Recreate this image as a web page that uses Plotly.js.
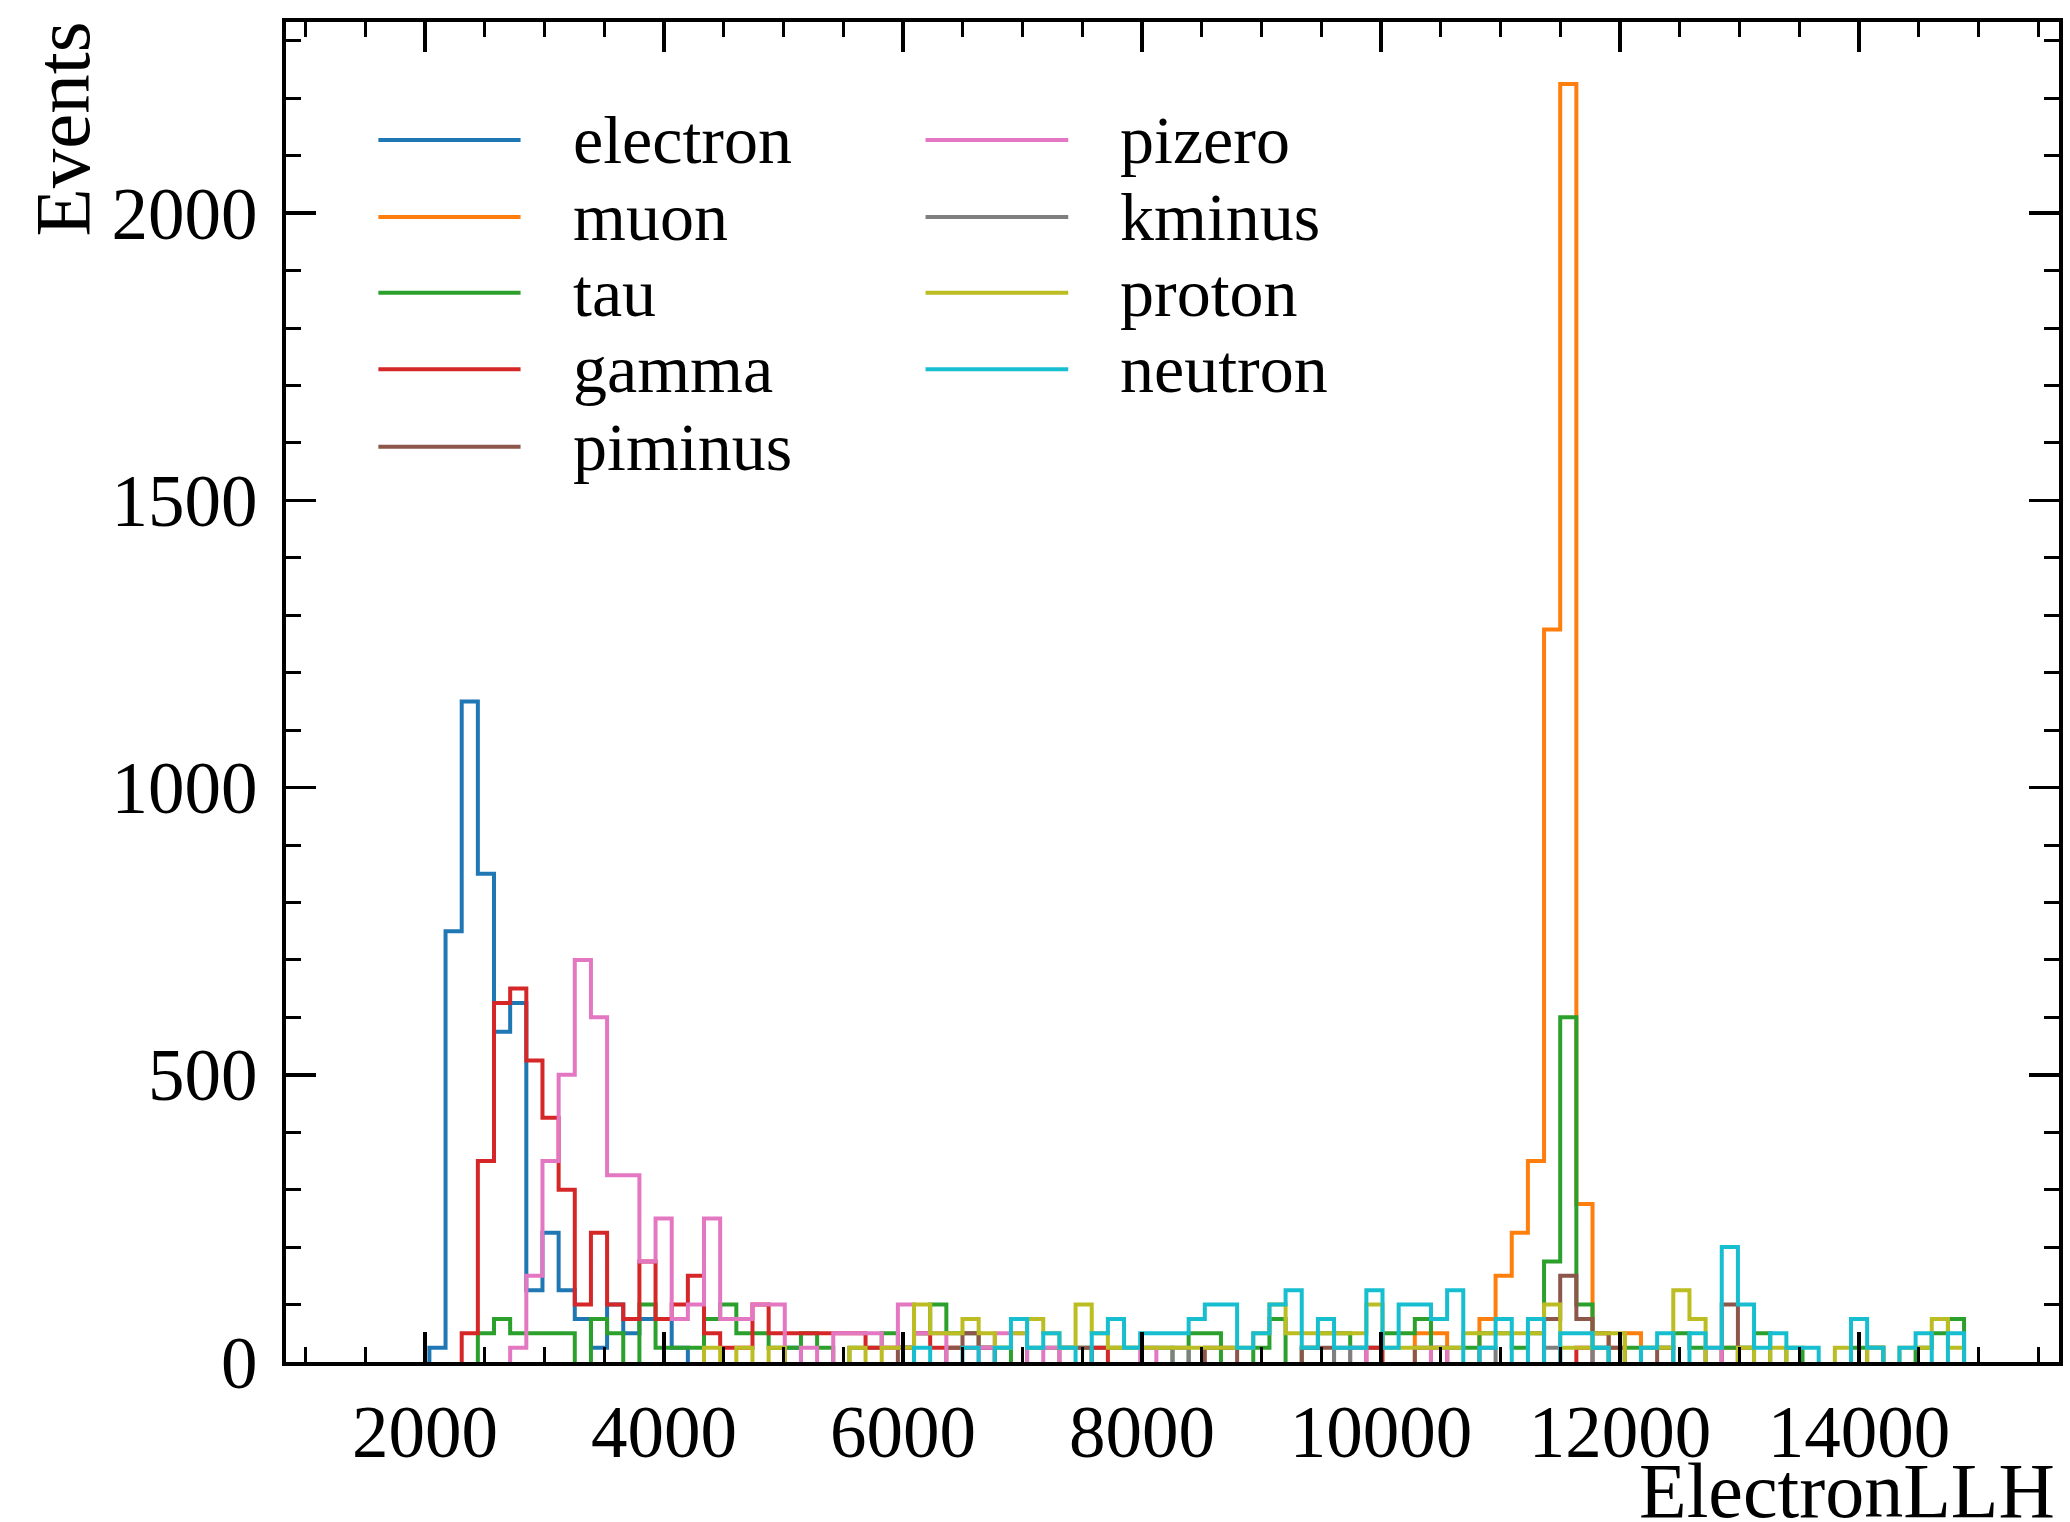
<!DOCTYPE html>
<html>
<head>
<meta charset="utf-8">
<script src="https://cdn.plot.ly/plotly-3.0.1.min.js"></script>
<style>
html, body { margin: 0; padding: 0; background: #ffffff; }
#chart { width: 2070px; height: 1522px; }
</style>
</head>
<body>
<div id="chart"></div>
<script>
// ---- Data ----
const binStart = 1495.5;   // left edge of first bin
const binWidth = 135.2;    // common bin width
const categories = ["electron", "muon", "tau", "gamma", "piminus", "pizero", "kminus", "proton", "neutron"];

const electron = [
  0,0,0,0,25,750,1150,850,575,625,
  125,225,125,75,25,100,50,75,75,25,
  0,0,0,0,0,0,25,0,0,0,
  0,0,0,0,0,0,0,0,0,0,
  0,0,0,0,0,0,0,0,0,0,
  0,0,0,0,0,0,0,0,0,0,
  0,0,0,0,0,0,0,0,0,0,
  0,0,0,0,0,0,0,0,0,0,
  0,0,0,0,0,0,0,0,0,0,
  0,0,0,0,0,0,0,0,0,0];
const muon = [
  0,0,0,0,0,0,0,0,0,0,
  0,0,0,0,0,0,0,0,0,0,
  0,0,0,0,0,0,0,0,0,0,
  0,0,0,0,0,0,0,0,0,0,
  0,0,0,0,0,0,0,0,0,0,
  0,0,0,0,0,0,0,0,0,0,
  0,0,0,0,0,50,50,0,0,75,
  150,225,350,1275,2225,275,50,25,50,0,
  0,0,0,0,25,0,0,0,0,0,
  0,0,0,0,0,0,0,0,0,0];
const tau = [
  0,0,0,0,0,0,0,50,75,50,
  50,50,50,0,75,50,0,100,25,25,
  25,75,100,50,50,25,25,50,25,0,
  25,25,50,25,50,100,50,50,25,25,
  0,25,25,25,25,25,25,25,25,25,
  0,50,50,0,0,25,75,0,25,50,
  50,25,25,50,50,75,0,25,25,50,
  50,25,50,175,600,100,25,0,25,25,
  25,50,25,0,25,25,50,0,25,0,
  0,0,25,25,0,0,25,50,75,0];
const gamma = [
  0,0,0,0,0,0,50,350,625,650,
  525,425,300,100,225,100,75,175,75,100,
  150,50,25,25,100,50,50,50,50,50,
  50,25,25,25,50,25,25,25,25,0,
  0,0,0,0,0,25,0,0,0,0,
  0,0,0,0,0,0,0,0,0,0,
  0,0,25,0,0,0,0,0,0,0,
  0,0,0,0,0,25,0,0,0,0,
  0,0,0,0,0,0,0,0,0,0,
  0,0,0,0,0,0,0,0,0,0];
const piminus = [
  0,0,0,0,0,0,0,0,0,0,
  0,0,0,0,0,0,0,0,0,0,
  0,0,0,0,0,0,0,0,0,0,
  0,0,0,25,0,0,25,50,25,0,
  0,0,0,25,25,0,0,0,0,0,
  0,0,25,25,0,0,0,0,25,25,
  0,0,0,0,0,25,25,0,0,0,
  0,0,0,75,150,75,50,25,0,0,
  25,0,0,0,100,0,0,0,0,0,
  0,0,0,25,0,0,0,0,0,0];
const pizero = [
  0,0,0,0,0,0,0,0,0,25,
  150,350,500,700,600,325,325,175,250,75,
  100,250,75,75,100,100,0,25,0,50,
  50,50,25,100,50,50,0,0,25,50,
  50,0,25,0,0,0,0,0,25,0,
  0,0,0,0,0,0,0,0,0,0,
  0,25,0,0,0,0,25,0,0,0,
  0,0,0,0,0,0,0,0,0,0,
  0,0,0,25,0,0,0,0,0,0,
  0,0,0,0,0,0,0,0,0,0];
const kminus = [
  0,0,0,0,0,0,0,0,0,0,
  0,0,0,0,0,0,0,0,0,0,
  0,0,0,0,0,0,0,0,0,0,
  0,0,0,0,0,0,0,0,0,0,
  0,0,0,0,0,0,0,0,0,0,
  25,0,0,0,0,0,0,0,0,0,
  25,0,0,0,0,0,0,0,0,25,
  0,0,0,25,0,0,25,0,0,0,
  0,0,0,0,0,25,0,0,0,0,
  0,0,0,0,0,0,0,0,0,0];
const proton = [
  0,0,0,0,0,0,0,0,0,0,
  0,0,0,0,0,0,0,0,0,0,
  0,25,0,25,0,25,0,0,0,0,
  25,0,25,25,100,50,50,75,50,25,
  50,75,50,25,100,50,25,25,25,25,
  25,25,25,25,25,50,100,50,50,50,
  50,50,100,25,25,25,25,25,50,50,
  50,50,50,100,25,25,50,50,0,25,
  25,125,75,0,0,25,0,25,0,0,
  0,25,0,25,0,25,25,75,25,0];
const neutron = [
  0,0,0,0,0,0,0,0,0,0,
  0,0,0,0,0,0,0,0,0,0,
  0,0,0,0,0,0,0,0,0,0,
  0,0,0,0,25,0,0,25,0,25,
  75,25,50,25,0,50,75,25,50,50,
  50,75,100,100,25,50,100,125,25,75,
  25,25,125,25,100,100,75,125,0,25,
  75,0,75,0,50,50,25,0,0,25,
  50,0,50,25,200,100,25,50,25,25,
  0,0,75,25,0,25,50,0,50,0];

const seriesValues = [electron, muon, tau, gamma, piminus, pizero, kminus, proton, neutron];

const xTickVals = [2000, 4000, 6000, 8000, 10000, 12000, 14000];
const xTickText = ["2000", "4000", "6000", "8000", "10000", "12000", "14000"];
const yTickVals = [0, 500, 1000, 1500, 2000];
const yTickText = ["0", "500", "1000", "1500", "2000"];

// ---- Styling ----
const colors = ["#1f77b4", "#ff7f0e", "#2ca02c", "#d62728", "#8c564b", "#e377c2", "#7f7f7f", "#bcbd22", "#17becf"];
const FONT = "Liberation Serif, Times New Roman, serif";
const LW = 4;

// step outline of a histogram (zero-height stretches are left out, as they sit under the spine)
function stepOutline(counts) {
  const n = counts.length;
  const edge = i => binStart + i * binWidth;
  const xs = [], ys = [];
  let prev = 0;
  for (let i = 0; i < n; i++) {
    const c = counts[i];
    if (c === 0 && prev === 0) continue;
    if (prev === 0) { xs.push(null); ys.push(null); xs.push(edge(i)); ys.push(0); }
    xs.push(edge(i)); ys.push(c);
    if (c > 0) { xs.push(edge(i + 1)); ys.push(c); }
    prev = c;
  }
  if (prev > 0) { xs.push(edge(n)); ys.push(0); }
  return { xs, ys };
}

const traces = categories.map((name, k) => {
  const o = stepOutline(seriesValues[k]);
  return {
    type: "scatter", mode: "lines", name: name,
    x: o.xs, y: o.ys, connectgaps: false,
    line: { color: colors[k], width: LW, shape: "linear" },
    showlegend: false, hoverinfo: "skip"
  };
});

// plot-area geometry (axis lines are drawn just outside it)
const M = { l: 286, r: 11, t: 22, b: 160 };
const plotW = 2070 - M.l - M.r, plotH = 1522 - M.t - M.b;

// x range: 5% margins around full bin range (as matplotlib autoscale), trimmed by the spine half-width
const lo = binStart, hi = binStart + electron.length * binWidth;
const fullX = 1.1 * (hi - lo);
const padX = 2 * fullX / (plotW + 4);
const xRange = [lo - 0.05 * (hi - lo) + padX, hi + 0.05 * (hi - lo) - padX];
const yMax = Math.max(...seriesValues.map(s => Math.max(...s)));
const yTop = yMax * 1.05;
const yRange = [0, yTop - 2 * yTop / (plotH + 2)];

// custom legend (two columns, long line handles)
const legendCols = [
  { lineX0: 0.0521, lineX1: 0.1323, textX: 0.1607 },
  { lineX0: 0.3607, lineX1: 0.4412, textX: 0.4693 }
];
const legendRowsY = [0.9119, 0.8545, 0.7980, 0.7408, 0.6831];
const shapes = [], annotations = [];
categories.forEach((name, k) => {
  const col = k < 5 ? 0 : 1;
  const row = k < 5 ? k : k - 5;
  const c = legendCols[col], y = legendRowsY[row];
  shapes.push({ type: "line", xref: "paper", yref: "paper", x0: c.lineX0, x1: c.lineX1, y0: y, y1: y,
                line: { color: colors[k], width: LW } });
  annotations.push({ xref: "paper", yref: "paper", x: c.textX, y: y, xanchor: "left", yanchor: "middle",
                     text: name, showarrow: false, font: { family: FONT, size: 68, color: "#000" } });
});
annotations.push({ xref: "paper", yref: "paper", x: 0.999, y: -0.096, xanchor: "right", yanchor: "middle",
                   text: "ElectronLLH", showarrow: false, font: { family: FONT, size: 78, color: "#000" } });
annotations.push({ xref: "paper", yref: "paper", x: -0.1263, y: 1.0015, xanchor: "center", yanchor: "top",
                   textangle: -90, text: "Events", showarrow: false, font: { family: FONT, size: 79, color: "#000" } });

const axisCommon = {
  showline: true, linecolor: "#000", linewidth: 4, mirror: "allticks",
  ticks: "inside", ticklen: 30, tickwidth: 3.5, tickcolor: "#000",
  showgrid: false, zeroline: false,
  tickfont: { family: FONT, size: 73, color: "#000" },
  tickmode: "array"
};

const layout = {
  width: 2070, height: 1522,
  paper_bgcolor: "#ffffff", plot_bgcolor: "#ffffff",
  margin: { l: M.l, r: M.r, t: M.t, b: M.b, pad: 0 },
  showlegend: false,
  xaxis: Object.assign({}, axisCommon, {
    range: xRange, tickvals: xTickVals, ticktext: xTickText, ticklabelstandoff: 3,
    minor: { tickmode: "linear", tick0: 0, dtick: 500, ticks: "inside", ticklen: 15, tickwidth: 3, tickcolor: "#000" }
  }),
  yaxis: Object.assign({}, axisCommon, {
    range: yRange, tickvals: yTickVals, ticktext: yTickText, ticklabelstandoff: 10,
    minor: { tickmode: "linear", tick0: 0, dtick: 100, ticks: "inside", ticklen: 15, tickwidth: 3, tickcolor: "#000" }
  }),
  shapes: shapes,
  annotations: annotations
};

Plotly.newPlot("chart", traces, layout, { staticPlot: true, displayModeBar: false });
</script>
</body>
</html>
